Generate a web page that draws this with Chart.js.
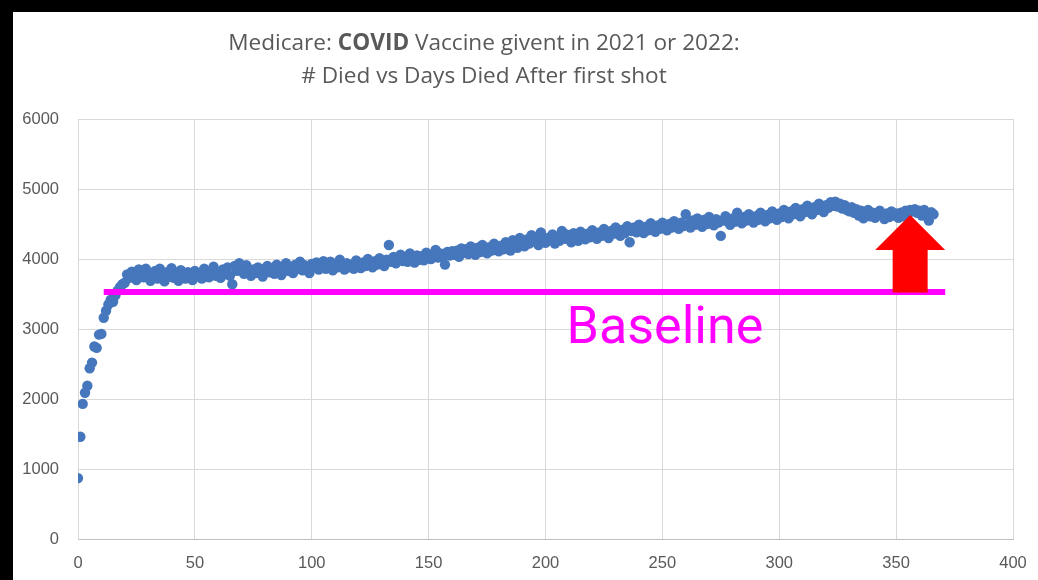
<!DOCTYPE html>
<html>
<head>
<meta charset="utf-8">
<script src="https://cdn.jsdelivr.net/npm/chart.js@4.4.0/dist/chart.umd.min.js"></script>
<style>
  html, body { margin: 0; padding: 0; background: #000; }
  body { width: 1038px; height: 580px; position: relative; overflow: hidden; }
  #panel { position: absolute; left: 13px; top: 12px; width: 1025px; height: 568px; background: #fff; }
  #chart { position: absolute; left: 0; top: 0; }
  #title {
    position: absolute; left: 0; top: 25px; width: 968px; text-align: center;
    font-family: 'Open Sans', sans-serif; font-size: 22.6px;
    line-height: 33px; color: #595959;
  }
  #title b { font-weight: bold; }
</style>
</head>
<body>
<div id="panel"><canvas id="chart" width="1025" height="568"></canvas></div>
<div id="title">Medicare: <b>COVID</b> Vaccine givent in 2021 or 2022:<br># Died vs Days Died After first shot</div>
<script>
// deaths per day after first shot, day 0 .. 366
const deaths = [
  870, 1460, 1930, 2090, 2190, 2440, 2520, 2750, 2730, 2920,
  2930, 3160, 3260, 3350, 3420, 3390, 3480, 3550, 3600, 3640,
  3660, 3780, 3730, 3820, 3760, 3700, 3850, 3790, 3740, 3860,
  3800, 3690, 3770, 3830, 3720, 3860, 3790, 3680, 3810, 3750,
  3870, 3730, 3800, 3690, 3840, 3760, 3720, 3810, 3770, 3700,
  3830, 3750, 3790, 3720, 3860, 3780, 3740, 3820, 3890, 3760,
  3800, 3730, 3850, 3790, 3880, 3760, 3640, 3900, 3830, 3940,
  3870, 3790, 3910, 3840, 3760, 3850, 3800, 3880, 3820, 3750,
  3860, 3900, 3810, 3870, 3790, 3920, 3850, 3770, 3880, 3940,
  3830, 3890, 3800, 3920, 3860, 3960, 3840, 3910, 3870, 3800,
  3930, 3880, 3950, 3850, 3920, 3970, 3860, 3900, 3960, 3840,
  3930, 3880, 3990, 3900, 3850, 3940, 3880, 3920, 3860, 3980,
  3910, 3870, 3950, 3900, 4000, 3930, 3880, 3970, 3920, 4010,
  3950, 3900, 3990, 4200, 3960, 4030, 3940, 3990, 4060, 3970,
  4020, 3960, 4080, 4000, 3950, 4050, 3990, 4040, 3980, 4090,
  4020, 4000, 4070, 4130, 4020, 4080, 4040, 3920, 4100, 4050,
  4110, 4060, 4120, 4030, 4150, 4090, 4140, 4070, 4180, 4110,
  4060, 4160, 4100, 4200, 4130, 4080, 4170, 4120, 4220, 4150,
  4110, 4190, 4140, 4240, 4170, 4120, 4270, 4200, 4160, 4300,
  4230, 4180, 4280, 4220, 4340, 4250, 4310, 4200, 4380, 4260,
  4230, 4300, 4270, 4350, 4220, 4310, 4260, 4400, 4290, 4350,
  4300, 4240, 4370, 4320, 4260, 4390, 4330, 4280, 4360, 4310,
  4410, 4340, 4290, 4380, 4330, 4430, 4350, 4300, 4400, 4360,
  4450, 4380, 4330, 4420, 4370, 4470, 4240, 4400, 4450, 4380,
  4490, 4420, 4370, 4460, 4410, 4510, 4440, 4390, 4480, 4430,
  4520, 4460, 4410, 4500, 4450, 4540, 4480, 4430, 4520, 4470,
  4640, 4500, 4450, 4550, 4490, 4580, 4510, 4460, 4560, 4500,
  4600, 4530, 4480, 4570, 4520, 4330, 4550, 4610, 4540, 4490,
  4580, 4530, 4660, 4560, 4510, 4600, 4550, 4640, 4570, 4520,
  4610, 4560, 4660, 4590, 4540, 4630, 4580, 4680, 4610, 4560,
  4650, 4600, 4700, 4630, 4580, 4680, 4640, 4730, 4660, 4610,
  4710, 4670, 4760, 4690, 4640, 4740, 4700, 4790, 4720, 4670,
  4770, 4730, 4810, 4760, 4820, 4750, 4790, 4720, 4770, 4700,
  4680, 4740, 4660, 4710, 4620, 4690, 4580, 4650, 4700, 4610,
  4660, 4590, 4640, 4690, 4620, 4570, 4650, 4600, 4680, 4620,
  4650, 4590, 4660, 4610, 4690, 4640, 4700, 4680, 4710, 4660,
  4690, 4620, 4700, 4650, 4550, 4670, 4640
];
const firstDay = 0;

const xTicks = [0, 50, 100, 150, 200, 250, 300, 350, 400];
const yTicks = [0, 1000, 2000, 3000, 4000, 5000, 6000];

// baseline annotation
const baselineValue = 3530;
const baselineDays = [11, 371];
const baselineLabel = 'Baseline';
const baselineLabelAt = [209, 2980];

// red arrow: day, from value, to value
const arrowDay = 356;
const arrowFrom = 3520;
const arrowTo = 4630;

const points = deaths.map((v, i) => ({ x: firstDay + i, y: v }));

const annotations = {
  id: 'annotations',
  afterDatasetsDraw(chart) {
    const { ctx, scales: { x, y } } = chart;
    ctx.save();
    // arrow
    const cx = x.getPixelForValue(arrowDay);
    const tip = y.getPixelForValue(arrowTo);
    const bottom = y.getPixelForValue(arrowFrom);
    const headH = 35, headW = 35, shaftW = 17.5;
    ctx.fillStyle = '#ff0000';
    ctx.beginPath();
    ctx.moveTo(cx, tip);
    ctx.lineTo(cx + headW, tip + headH);
    ctx.lineTo(cx + shaftW, tip + headH);
    ctx.lineTo(cx + shaftW, bottom);
    ctx.lineTo(cx - shaftW, bottom);
    ctx.lineTo(cx - shaftW, tip + headH);
    ctx.lineTo(cx - headW, tip + headH);
    ctx.closePath();
    ctx.fill();
    // label
    ctx.fillStyle = '#ff00ff';
    ctx.font = '52px Roboto';
    ctx.textAlign = 'left';
    ctx.textBaseline = 'middle';
    ctx.fillText(baselineLabel, x.getPixelForValue(baselineLabelAt[0]), y.getPixelForValue(baselineLabelAt[1]));
    ctx.restore();
  }
};

const tickFont = { family: 'Liberation Sans', size: 16.5 };

new Chart(document.getElementById('chart'), {
  type: 'scatter',
  data: {
    datasets: [{
      label: 'Died',
      data: points,
      backgroundColor: '#4677bd',
      borderColor: '#4677bd',
      pointRadius: 5.2,
      pointBorderWidth: 0,
      order: 2
    }, {
      label: 'Baseline',
      type: 'line',
      data: baselineDays.map(d => ({ x: d, y: baselineValue })),
      borderColor: '#ff00ff',
      borderWidth: 6,
      pointRadius: 0,
      borderCapStyle: 'butt',
      order: 1
    }]
  },
  options: {
    responsive: false,
    animation: false,
    layout: { padding: { top: 107, right: 25, left: 0, bottom: 0 } },
    plugins: { legend: { display: false }, tooltip: { enabled: false } },
    scales: {
      x: {
        type: 'linear',
        min: 0, max: 400,
        afterBuildTicks: s => { s.ticks = xTicks.map(v => ({ value: v })); },
        afterFit: s => { s.height = 41; s.paddingLeft = 0; s.paddingRight = 0; },
        grid: { color: '#d9d9d9', drawTicks: false },
        border: { color: '#bfbfbf' },
        ticks: { color: '#595959', padding: 15, font: tickFont, callback: v => String(v) }
      },
      y: {
        min: 0, max: 6000,
        afterBuildTicks: s => { s.ticks = yTicks.map(v => ({ value: v })); },
        afterFit: s => { s.width = 65; s.paddingTop = 0; s.paddingBottom = 0; },
        grid: { color: '#d9d9d9', drawTicks: false },
        border: { color: '#d9d9d9' },
        ticks: { color: '#595959', padding: 19, font: tickFont, callback: v => String(v) }
      }
    }
  },
  plugins: [annotations]
});
</script>
</body>
</html>
